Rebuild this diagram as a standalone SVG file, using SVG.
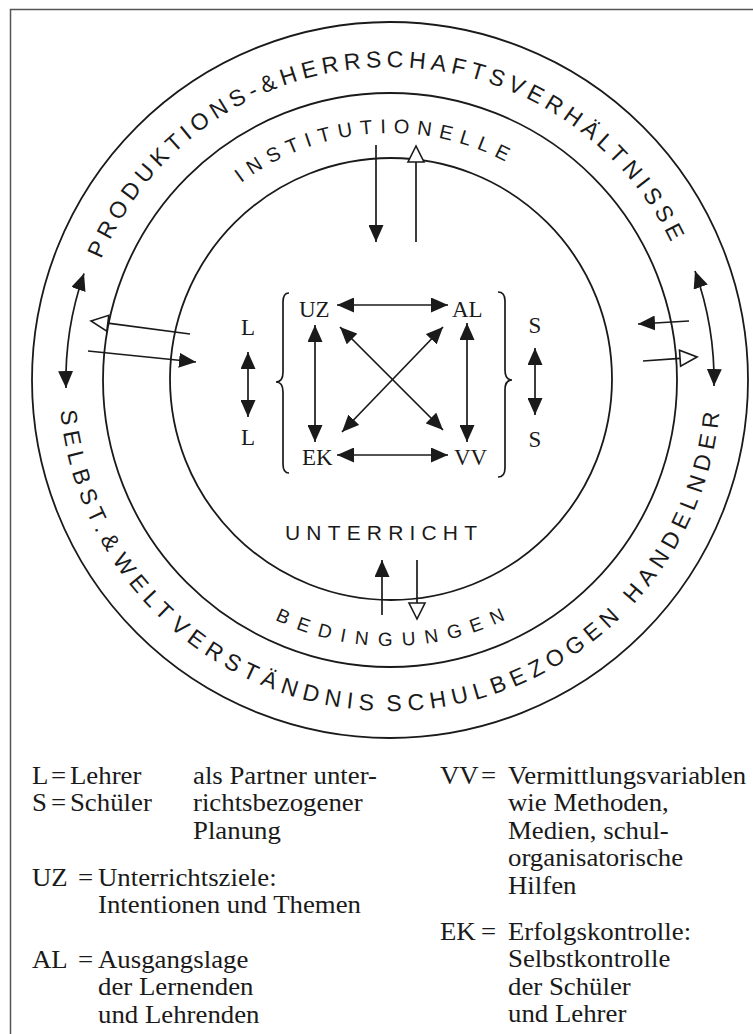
<svg xmlns="http://www.w3.org/2000/svg" width="753" height="1034" viewBox="0 0 753 1034">
<style>
.ring{fill:none;stroke:#1a1a1a;stroke-width:1.8}
.arc{font-family:"Liberation Sans",Arial,sans-serif;fill:#1a1a1a}
.outer{font-size:23px;letter-spacing:5.1px}
.outerb{font-size:23px;letter-spacing:6.13px}
.box{font-family:"Liberation Serif","Times New Roman",serif;font-size:23px;fill:#1a1a1a}
.leg{font-family:"Liberation Serif","Times New Roman",serif;font-size:24.6px;fill:#1a1a1a}
.ln{fill:none;stroke:#1a1a1a;stroke-width:1.7}
.dbl{marker-start:url(#ah);marker-end:url(#ah)}
.one{marker-end:url(#ah)}
.hollow{fill:#fff;stroke:#1a1a1a;stroke-width:1.6}
</style>
<defs>
<marker id="ah" viewBox="0 0 17 15" refX="17" refY="7.5" markerWidth="17" markerHeight="15" markerUnits="userSpaceOnUse" orient="auto-start-reverse">
<path d="M0,0 L17,7.5 L0,15 Z" fill="#1a1a1a"/>
</marker>
<path id="pOuterTop" d="M77,380 A313,313 0 0 1 703,380"/>
<path id="pOuterBot" d="M59,380 A331,331 0 0 0 721,380"/>
<path id="pMidTop" d="M143,380 A247,247 0 0 1 637,380"/>
<path id="pMidBot" d="M124,380 A266,266 0 0 0 656,380"/>
</defs>
<rect width="753" height="1034" fill="#fff"/>
<path d="M10.5,1034 V9.5 H753" fill="none" stroke="#555" stroke-width="1.5"/>

<g id="rings">
<circle class="ring" cx="390" cy="380" r="358"/>
<circle class="ring" cx="390" cy="380" r="287"/>
<circle class="ring" cx="391" cy="379" r="221"/>
</g>

<g id="ring-outer-top">
<text class="arc outer"><textPath href="#pOuterTop" startOffset="124">PRODUKTION</textPath></text>
<text class="arc outer"><textPath href="#pOuterTop" startOffset="328.3">S-&amp;HERRSCHAFTSV</textPath></text>
<text class="arc outer"><textPath href="#pOuterTop" startOffset="631">ERHÄLTNISSE</textPath></text>
</g>
<g id="ring-outer-bottom">
<text class="arc outerb"><textPath href="#pOuterBot" startOffset="31">SELBST.&amp;</textPath></text>
<text class="arc outerb"><textPath href="#pOuterBot" startOffset="190">WELT</textPath></text>
<text class="arc outerb"><textPath href="#pOuterBot" startOffset="278.4">VERST</textPath></text>
<text class="arc outerb"><textPath href="#pOuterBot" startOffset="385.7">ÄNDNIS</textPath></text>
<text class="arc outerb"><textPath href="#pOuterBot" startOffset="516.4">SCHUL</textPath></text>
<text class="arc outerb"><textPath href="#pOuterBot" startOffset="625">BEZ</textPath></text>
<text class="arc outerb"><textPath href="#pOuterBot" startOffset="688.1">OGEN</textPath></text>
<text class="arc outerb"><textPath href="#pOuterBot" startOffset="792.9">HANDELNDER</textPath></text>
</g>
<g id="ring-middle">
<text class="arc" font-size="20"><textPath href="#pMidTop" startOffset="368" text-anchor="middle" textLength="280" lengthAdjust="spacing">INSTITUTIONELLE</textPath></text>
<text class="arc" font-size="19"><textPath href="#pMidBot" startOffset="418" text-anchor="middle" textLength="239" lengthAdjust="spacing">BEDINGUNGEN</textPath></text>
</g>
<g id="ring-inner">
<text class="arc" font-size="21" x="381" y="540" text-anchor="middle" textLength="192" lengthAdjust="spacing">UNTERRICHT</text>
</g>

<g id="node-UZ"><text class="box" x="299" y="317">UZ</text></g>
<g id="node-AL"><text class="box" x="452" y="317">AL</text></g>
<g id="node-EK"><text class="box" x="302" y="465">EK</text></g>
<g id="node-VV"><text class="box" x="454" y="465">VV</text></g>
<g id="node-L1"><text class="box" x="248" y="335" text-anchor="middle">L</text></g>
<g id="node-L2"><text class="box" x="248" y="445" text-anchor="middle">L</text></g>
<g id="node-S1"><text class="box" x="535" y="333" text-anchor="middle">S</text></g>
<g id="node-S2"><text class="box" x="535" y="447" text-anchor="middle">S</text></g>

<g id="braces">
<path class="ln" d="M289,293 Q283,293 283,302 L283,372 Q283,382 276,382 Q283,382 283,392 L283,464 Q283,473 289,473"/>
<path class="ln" d="M498,292 Q505,292 505,301 L505,370 Q505,380 512,380 Q505,380 505,390 L505,468 Q505,477 498,477"/>
</g>

<g id="connectors">
<line class="ln dbl" x1="337" y1="305" x2="448" y2="305"/>
<line class="ln dbl" x1="337" y1="455" x2="448" y2="455"/>
<line class="ln dbl" x1="315" y1="325" x2="315" y2="442"/>
<line class="ln dbl" x1="467" y1="323" x2="467" y2="442"/>
<line class="ln dbl" x1="340" y1="327" x2="443" y2="430"/>
<line class="ln dbl" x1="443" y1="327" x2="342" y2="432"/>
<line class="ln dbl" x1="248" y1="352" x2="248" y2="417"/>
<line class="ln dbl" x1="535" y1="348" x2="535" y2="415"/>

<path class="ln dbl" d="M84,273.5 A324,324 0 0 0 66,388"/>
<path class="ln dbl" d="M695,271 A324,324 0 0 1 714,386"/>

<line class="ln" x1="190" y1="334" x2="107.8" y2="323.2"/>
<polygon class="hollow" points="91,321 108.8,315.3 106.8,331.1"/>
<line class="ln one" x1="88" y1="351" x2="196" y2="362"/>

<line class="ln one" x1="689" y1="321" x2="638" y2="324"/>
<line class="ln" x1="643" y1="361" x2="680" y2="358.3"/>
<polygon class="hollow" points="697,357 680.6,366.2 679.5,350.3"/>

<line class="ln one" x1="376" y1="145" x2="376" y2="242"/>
<line class="ln" x1="416" y1="162" x2="416" y2="242"/>
<polygon class="hollow" points="416,146 408,162 424,162"/>

<line class="ln one" x1="382" y1="615" x2="382" y2="560"/>
<line class="ln" x1="417" y1="560" x2="417" y2="603"/>
<polygon class="hollow" points="417,619 409,603 425,603"/>
</g>

<g id="legend" transform="scale(1.09,1)">
<text class="leg" x="29.36" y="784">L</text><text class="leg" x="46.8" y="784">=</text><text class="leg" x="64.2" y="784">Lehrer</text>
<text class="leg" x="29.36" y="811.5">S</text><text class="leg" x="46.8" y="811.5">=</text><text class="leg" x="64.2" y="811.5">Schüler</text>
<text class="leg" x="177.06" y="784">als Partner unter-</text>
<text class="leg" x="177.06" y="811.5">richtsbezogener</text>
<text class="leg" x="177.06" y="839">Planung</text>
<text class="leg" x="29.36" y="886">UZ</text><text class="leg" x="71.56" y="886">=</text><text class="leg" x="89.91" y="886">Unterrichtsziele:</text>
<text class="leg" x="89.91" y="913.5">Intentionen und Themen</text>
<text class="leg" x="29.36" y="968">AL</text><text class="leg" x="71.56" y="968">=</text><text class="leg" x="89.91" y="968">Ausgangslage</text>
<text class="leg" x="89.91" y="995.5">der Lernenden</text>
<text class="leg" x="89.91" y="1023">und Lehrenden</text>

<text class="leg" x="403.67" y="784">VV</text><text class="leg" x="441.28" y="784">=</text><text class="leg" x="466.06" y="784">Vermittlungsvariablen</text>
<text class="leg" x="466.06" y="811.5">wie Methoden,</text>
<text class="leg" x="466.06" y="839">Medien, schul-</text>
<text class="leg" x="466.06" y="866.5">organisatorische</text>
<text class="leg" x="466.06" y="894">Hilfen</text>
<text class="leg" x="403.67" y="940">EK</text><text class="leg" x="441.28" y="940">=</text><text class="leg" x="466.06" y="940">Erfolgskontrolle:</text>
<text class="leg" x="466.06" y="967.5">Selbstkontrolle</text>
<text class="leg" x="466.06" y="995">der Schüler</text>
<text class="leg" x="466.06" y="1022.5">und Lehrer</text>
</g>
</svg>
